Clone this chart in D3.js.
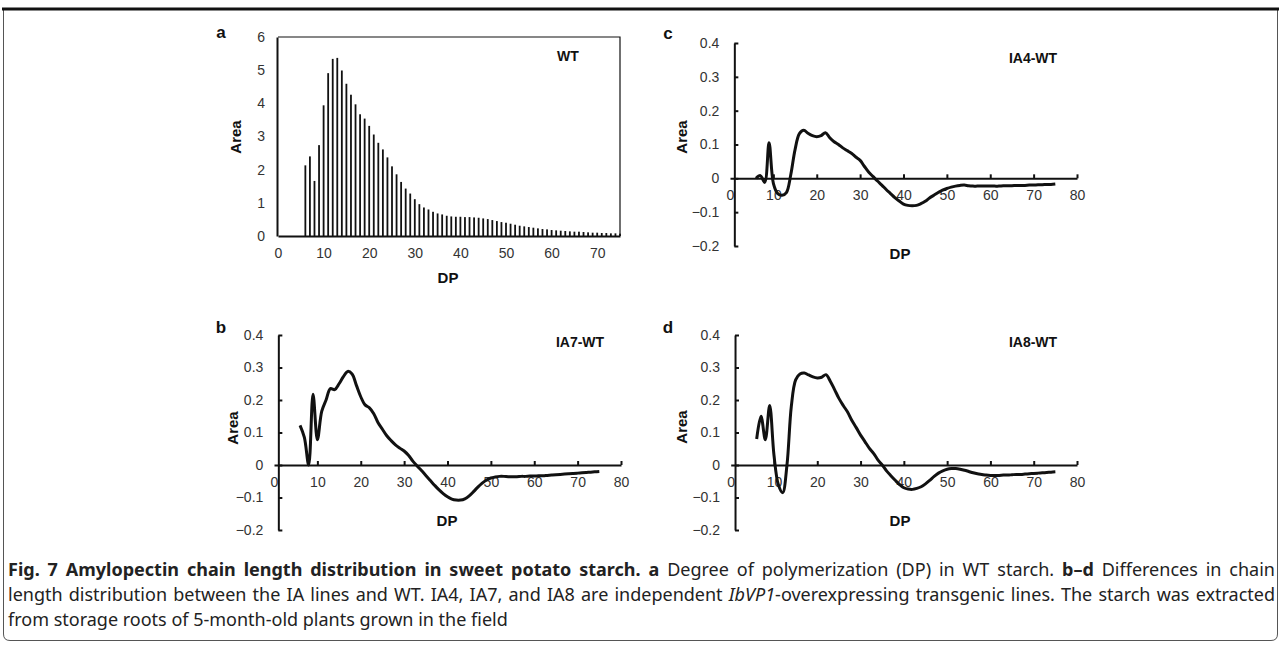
<!doctype html>
<html lang="en">
<head>
<meta charset="UTF-8">
<title>Fig. 7</title>
<script src="https://cdn.jsdelivr.net/npm/d3@7"></script>
<style>
  body { margin: 0; background: #fff; }
  .wrap { position: relative; width: 1281px; height: 647px; overflow: hidden; }
  svg { position: absolute; left: 0; top: 0; }
  .tick text { font-family: "Liberation Sans", Arial, sans-serif; font-size: 14px; fill: #333; }
  .lbl { font-family: "Liberation Sans", Arial, sans-serif; font-weight: bold; fill: #111; }
  .caption { position: absolute; left: 8px; top: 557px; width: 1267px;
             font-family: "Noto Sans", sans-serif; font-size: 18px; line-height: 25px; color: #222; }
  .caption div { white-space: nowrap; }
</style>
</head>
<body>
<div class="wrap">
  <svg id="fig" width="1281" height="647"></svg>
  <div class="caption">
    <div class="just"><b>Fig. 7 Amylopectin chain length distribution in sweet potato starch. a</b> Degree of polymerization (DP) in WT starch. <b>b–d</b> Differences in chain</div>
    <div class="just">length distribution between the IA lines and WT. IA4, IA7, and IA8 are independent <i>IbVP1</i>-overexpressing transgenic lines. The starch was extracted</div>
    <div>from storage roots of 5-month-old plants grown in the field</div>
  </div>
</div>
<script>
  // degree of polymerization (categories)
  const dp = [6, 7, 8, 9, 10, 11, 12, 13, 14, 15, 16, 17, 18, 19, 20, 21, 22, 23, 24, 25,
    26, 27, 28, 29, 30, 31, 32, 33, 34, 35, 36, 37, 38, 39, 40, 41, 42, 43, 44, 45,
    46, 47, 48, 49, 50, 51, 52, 53, 54, 55, 56, 57, 58, 59, 60, 61, 62, 63, 64, 65,
    66, 67, 68, 69, 70, 71, 72, 73, 74, 75];

  // a: WT area
  const wtArea = [2.13, 2.4, 1.66, 2.74, 3.94, 4.91, 5.34, 5.37, 4.99, 4.59,
    4.26, 3.97, 3.67, 3.54, 3.32, 3.06, 2.81, 2.61, 2.37, 2.1,
    1.86, 1.63, 1.43, 1.28, 1.11, 0.96, 0.86, 0.8, 0.73, 0.68,
    0.65, 0.61, 0.59, 0.58, 0.58, 0.57, 0.57, 0.56, 0.55, 0.53,
    0.51, 0.48, 0.45, 0.42, 0.4, 0.37, 0.34, 0.31, 0.29, 0.27,
    0.25, 0.23, 0.21, 0.2, 0.18, 0.17, 0.16, 0.15, 0.14, 0.13,
    0.13, 0.12, 0.11, 0.1, 0.1, 0.09, 0.09, 0.08, 0.08, 0.07];

  // c: IA4 - WT
  const ia4Diff = [0.0, 0.008, -0.012, 0.105, -0.015, -0.045, -0.05, -0.042, 0.01, 0.085,
    0.132, 0.142, 0.133, 0.126, 0.123, 0.126, 0.135, 0.12, 0.108, 0.1,
    0.09, 0.082, 0.074, 0.063, 0.053, 0.035, 0.018, 0.005, -0.008, -0.02,
    -0.033, -0.045, -0.057, -0.067, -0.076, -0.08, -0.081, -0.08, -0.075, -0.068,
    -0.058, -0.05, -0.042, -0.035, -0.03, -0.026, -0.023, -0.021, -0.02, -0.022,
    -0.023, -0.023, -0.023, -0.023, -0.023, -0.023, -0.023, -0.022, -0.022, -0.022,
    -0.021, -0.021, -0.021, -0.02, -0.02, -0.019, -0.019, -0.018, -0.018, -0.017];

  // b: IA7 - WT
  const ia7Diff = [0.122, 0.085, 0.0, 0.218, 0.078, 0.165, 0.2, 0.235, 0.232, 0.25,
    0.272, 0.288, 0.28, 0.245, 0.21, 0.185, 0.176, 0.158, 0.13, 0.11,
    0.09, 0.075, 0.062, 0.052, 0.043, 0.03, 0.012, -0.003, -0.017, -0.032,
    -0.047, -0.062, -0.076, -0.088, -0.098, -0.105, -0.108, -0.108, -0.104, -0.095,
    -0.082, -0.068, -0.056, -0.046, -0.04, -0.037, -0.035, -0.035, -0.036, -0.036,
    -0.036, -0.035, -0.035, -0.034, -0.034, -0.033, -0.033, -0.032, -0.031, -0.03,
    -0.029, -0.028, -0.027, -0.026, -0.025, -0.024, -0.023, -0.022, -0.021, -0.02];

  // d: IA8 - WT
  const ia8Diff = [0.08, 0.15, 0.078, 0.183, 0.03, -0.06, -0.085, 0.0, 0.18, 0.262,
    0.28, 0.283, 0.277, 0.271, 0.268, 0.27, 0.278, 0.258, 0.232, 0.205,
    0.183, 0.163, 0.137, 0.115, 0.092, 0.072, 0.052, 0.036, 0.016, 0.0,
    -0.018, -0.033, -0.047, -0.06, -0.07, -0.074, -0.075, -0.072, -0.067, -0.058,
    -0.047, -0.035, -0.025, -0.018, -0.013, -0.011, -0.011, -0.013, -0.016, -0.02,
    -0.024, -0.027, -0.029, -0.031, -0.032, -0.032, -0.032, -0.031, -0.031, -0.03,
    -0.029, -0.029, -0.028, -0.027, -0.026, -0.025, -0.024, -0.023, -0.022, -0.021];

  const wtTicksX = [0, 10, 20, 30, 40, 50, 60, 70];
  const wtTicksY = [0, 1, 2, 3, 4, 5, 6];
  const diffTicksX = [0, 10, 20, 30, 40, 50, 60, 70, 80];
  const diffTicksY = [-0.2, -0.1, 0, 0.1, 0.2, 0.3, 0.4];

  const svg = d3.select('#fig');

  // outer frame: thick top rule, thin rounded sides
  svg.append('path')
    .attr('d', 'M3.5,9 V634 Q3.5,640.5 10,640.5 H1271 Q1277.5,640.5 1277.5,634 V9')
    .attr('fill', 'none').attr('stroke', '#555').attr('stroke-width', 1);
  svg.append('line')
    .attr('x1', 2).attr('x2', 1279).attr('y1', 9).attr('y2', 9)
    .attr('stroke', '#111').attr('stroke-width', 3);

  function label(x, y, txt, size, rotate) {
    const t = svg.append('text').attr('class', 'lbl')
      .attr('x', x).attr('y', y)
      .attr('text-anchor', 'middle')
      .style('font-size', size + 'px')
      .text(txt);
    if (rotate) t.attr('transform', `rotate(-90, ${x}, ${y})`);
    return t;
  }

  // ---------- panel a: bars ----------
  {
    const x = d3.scaleLinear().domain([0, 75]).range([278, 620]);
    const y = d3.scaleLinear().domain([0, 6]).range([236, 37]);
    const g = svg.append('g');

    g.selectAll('rect.bar')
      .data(dp.map((d, i) => ({ d, v: wtArea[i] })))
      .enter().append('rect')
      .attr('class', 'bar')
      .attr('x', d => x(d.d) - 0.9)
      .attr('width', 1.8)
      .attr('y', d => y(d.v))
      .attr('height', d => y(0) - y(d.v))
      .attr('fill', '#111');

    // plot frame (top / right)
    g.append('path')
      .attr('d', `M${x(0)},${y(6)} H${x(75)} V${y(0)}`)
      .attr('fill', 'none').attr('stroke', '#111').attr('stroke-width', 1.2);

    const xAxis = d3.axisBottom(x).tickValues(wtTicksX).tickSize(0).tickPadding(12).tickSizeOuter(0);
    const yAxis = d3.axisLeft(y).tickValues(wtTicksY).tickSize(0).tickPadding(12).tickSizeOuter(0)
      .tickFormat(d3.format('d'));
    g.append('g').attr('transform', `translate(0,${y(0)})`).call(xAxis)
      .select('.domain').attr('stroke', '#111').attr('stroke-width', 2);
    g.append('g').attr('transform', `translate(${x(0) - 1},0)`).call(yAxis)
      .select('.domain').attr('stroke', '#111').attr('stroke-width', 2);

    label(221, 38, 'a', 17);
    label(568, 61, 'WT', 14);
    label(241, 137, 'Area', 15, true);
    label(448, 283, 'DP', 15);
  }

  // ---------- panels b, c, d: difference curves ----------
  function diffPanel(opt) {
    const x = d3.scaleLinear().domain([0, 80]).range(opt.xr);
    const y = d3.scaleLinear().domain([-0.2, 0.4]).range(opt.yr);
    const g = svg.append('g');

    const xAxis = d3.axisBottom(x).tickValues(diffTicksX)
      .tickSizeInner(-4).tickSizeOuter(0).tickPadding(12);
    const xg = g.append('g').attr('transform', `translate(0,${y(0)})`).call(xAxis);
    xg.select('.domain').attr('stroke', '#111').attr('stroke-width', 2);
    xg.selectAll('.tick line').attr('stroke', '#111').attr('stroke-width', 2)
      .filter(d => d === 0).remove();

    const yAxis = d3.axisLeft(y).tickValues(diffTicksY)
      .tickSizeInner(-4).tickSizeOuter(0).tickPadding(15)
      .tickFormat(d => d === 0 ? '0' : d3.format('.1f')(d));
    const yg = g.append('g').attr('transform', `translate(${x(1)},0)`).call(yAxis);
    yg.select('.domain').attr('stroke', '#111').attr('stroke-width', 2);
    yg.selectAll('.tick line').attr('stroke', '#111').attr('stroke-width', 2);

    const line = d3.line()
      .x((d, i) => x(dp[i]))
      .y(d => y(d))
      .curve(d3.curveCatmullRom.alpha(0.5));

    g.append('path')
      .datum(opt.values)
      .attr('d', line)
      .attr('fill', 'none')
      .attr('stroke', '#111')
      .attr('stroke-width', 3)
      .attr('stroke-linejoin', 'round');

    label(opt.letter[1], opt.letter[2], opt.letter[0], 17);
    label(opt.title[1], opt.title[2], opt.title[0], 14);
    label(opt.area[0], opt.area[1], 'Area', 15, true);
    label(opt.dpLbl[0], opt.dpLbl[1], 'DP', 15);
  }

  diffPanel({
    values: ia4Diff, xr: [730, 1077], yr: [246, 43],
    letter: ['c', 668, 39], title: ['IA4-WT', 1033, 63],
    area: [687, 137], dpLbl: [900, 259]
  });
  diffPanel({
    values: ia7Diff, xr: [274, 621], yr: [530, 335],
    letter: ['b', 221, 333], title: ['IA7-WT', 580, 347],
    area: [238, 428], dpLbl: [447, 526]
  });
  diffPanel({
    values: ia8Diff, xr: [730.7, 1077], yr: [530, 335],
    letter: ['d', 668, 333], title: ['IA8-WT', 1033, 347],
    area: [687, 427], dpLbl: [900, 526]
  });

  // justify the first two caption lines by spreading the word gaps
  const capWidth = 1267;
  document.querySelectorAll('.caption .just').forEach(el => {
    const range = document.createRange();
    range.selectNodeContents(el);
    const natural = range.getBoundingClientRect().width;
    const gaps = (el.textContent.trim().match(/ /g) || []).length;
    if (gaps) el.style.wordSpacing = ((capWidth - natural) / gaps) + 'px';
  });
</script>
</body>
</html>
